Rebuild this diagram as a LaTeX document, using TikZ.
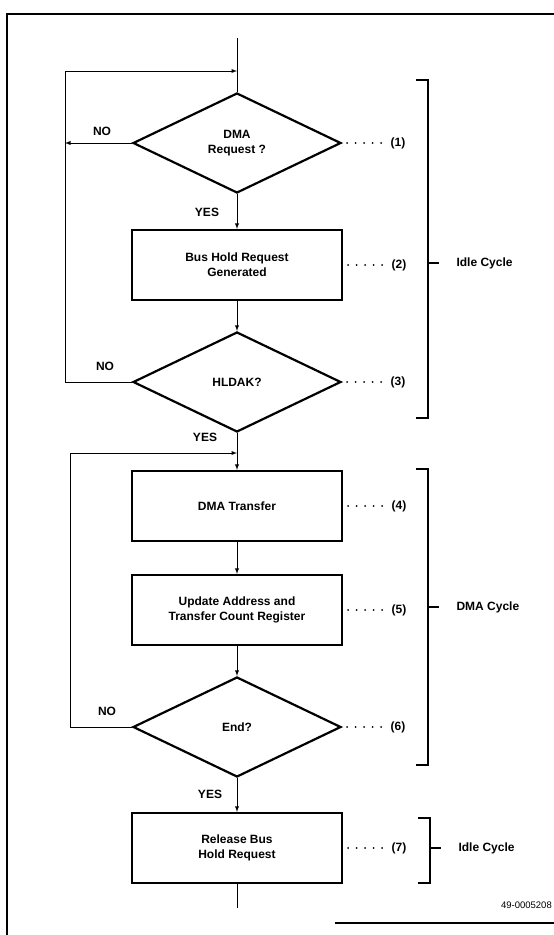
\documentclass[tikz,border=0pt]{standalone}
\usepackage{fontspec}
\setmainfont{Liberation Sans}
\usepackage{tikz}
\usetikzlibrary{arrows}
\usetikzlibrary{shapes}
\usetikzlibrary{positioning}

\newcommand{\lbl}{\fontsize{12}{15}\selectfont\bfseries}

\tikzset{
  stepbox/.style={draw, line width=2.2pt, minimum width=210pt, minimum height=70pt,
    inner sep=0pt, align=center, font=\lbl},
  decision/.style={draw, diamond, line width=2.2pt, minimum width=208pt,
    minimum height=100pt, inner sep=0pt, align=center, font=\lbl},
  flow/.style={line width=0.9pt},
  leader/.style={line width=1.9pt, line cap=round, dash pattern=on 0pt off 8.5pt},
  brace/.style={line width=1.2pt},
  tag/.style={font=\lbl},
}

\begin{document}
\begin{tikzpicture}[x=1pt, y=-1pt]
  \useasboundingbox (0,0) rectangle (554,935);

  %% frame
  \draw[line width=1.4pt] (7,935) -- (7,14) -- (554,14);
  \draw[line width=1.4pt] (335,923) -- (554,923);

  %% idle cycle
  \coordinate (in) at (237,38);
  \coordinate (lp1) at (65,71);
  \node[decision] (d1) at (237,143) {DMA\\Request ?};
  \node[stepbox] (b2) at (237,265) {Bus Hold Request\\Generated};
  \node[decision] (d3) at (237,382) {HLDAK?};

  \draw[flow] (in) -- (d1.north);
  \draw[flow,-latex] (d1.south) -- (b2.north);
  \draw[flow,-latex] (b2.south) -- (d3.north);
  \draw[flow,-latex] (d3.west) -| (lp1) -- (lp1 -| in);
  \draw[flow,-latex] (d1.west) -- (d1.west -| lp1);

  \node[tag] (no1) at (102,131) {NO};
  \node[tag] (yes1) at (207,212) {YES};
  \node[tag] (no3) at (105,366) {NO};
  \node[tag] (yes3) at (205,437) {YES};

  %% dma cycle
  \coordinate (lp2) at (70,453);
  \node[stepbox] (b4) at (237,506) {DMA Transfer};
  \node[stepbox] (b5) at (237,610) {Update Address and\\Transfer Count Register};
  \node[decision] (d6) at (237,727) {End?};

  \draw[flow,-latex] (d3.south) -- (b4.north);
  \draw[flow,-latex] (b4.south) -- (b5.north);
  \draw[flow,-latex] (b5.south) -- (d6.north);
  \draw[flow,-latex] (d6.west) -| (lp2) -- (lp2 -| b4.north);

  \node[tag] (no6) at (107,711) {NO};
  \node[tag] (yes6) at (210,794) {YES};

  %% release
  \coordinate (out) at (237,908);
  \node[stepbox] (b7) at (237,848) {Release Bus\\Hold Request};
  \draw[flow,-latex] (d6.south) -- (b7.north);
  \draw[flow] (b7.south) -- (out);

  %% step numbers
  \foreach \s/\n in {d1/1, b2/2, d3/3, b4/4, b5/5, d6/6, b7/7} {
    \node[tag, right=45pt of \s] (n\n) {(\n)};
    \draw[leader] ([xshift=5pt]\s.east) -- ([xshift=-3pt]n\n.west);
  }

  %% cycle brackets
  \draw[brace] (416,80) -- (428,80) -- (428,418) -- (416,418);
  \draw[brace] (428,263) -- (439,263);
  \node[tag, anchor=west] (c1) at (453,263) {Idle Cycle};

  \draw[brace] (416,469) -- (428,469) -- (428,765) -- (416,765);
  \draw[brace] (428,607) -- (439,607);
  \node[tag, anchor=west] (c2) at (453,607) {DMA Cycle};

  \draw[brace] (418,818) -- (430,818) -- (430,883) -- (418,883);
  \draw[brace] (430,848) -- (441,848);
  \node[tag, anchor=west] (c3) at (455,848) {Idle Cycle};

  \node[anchor=east, inner sep=1pt, font=\fontsize{9.5}{12}\selectfont] (fig) at (553,905) {49-0005208};
\end{tikzpicture}
\end{document}
